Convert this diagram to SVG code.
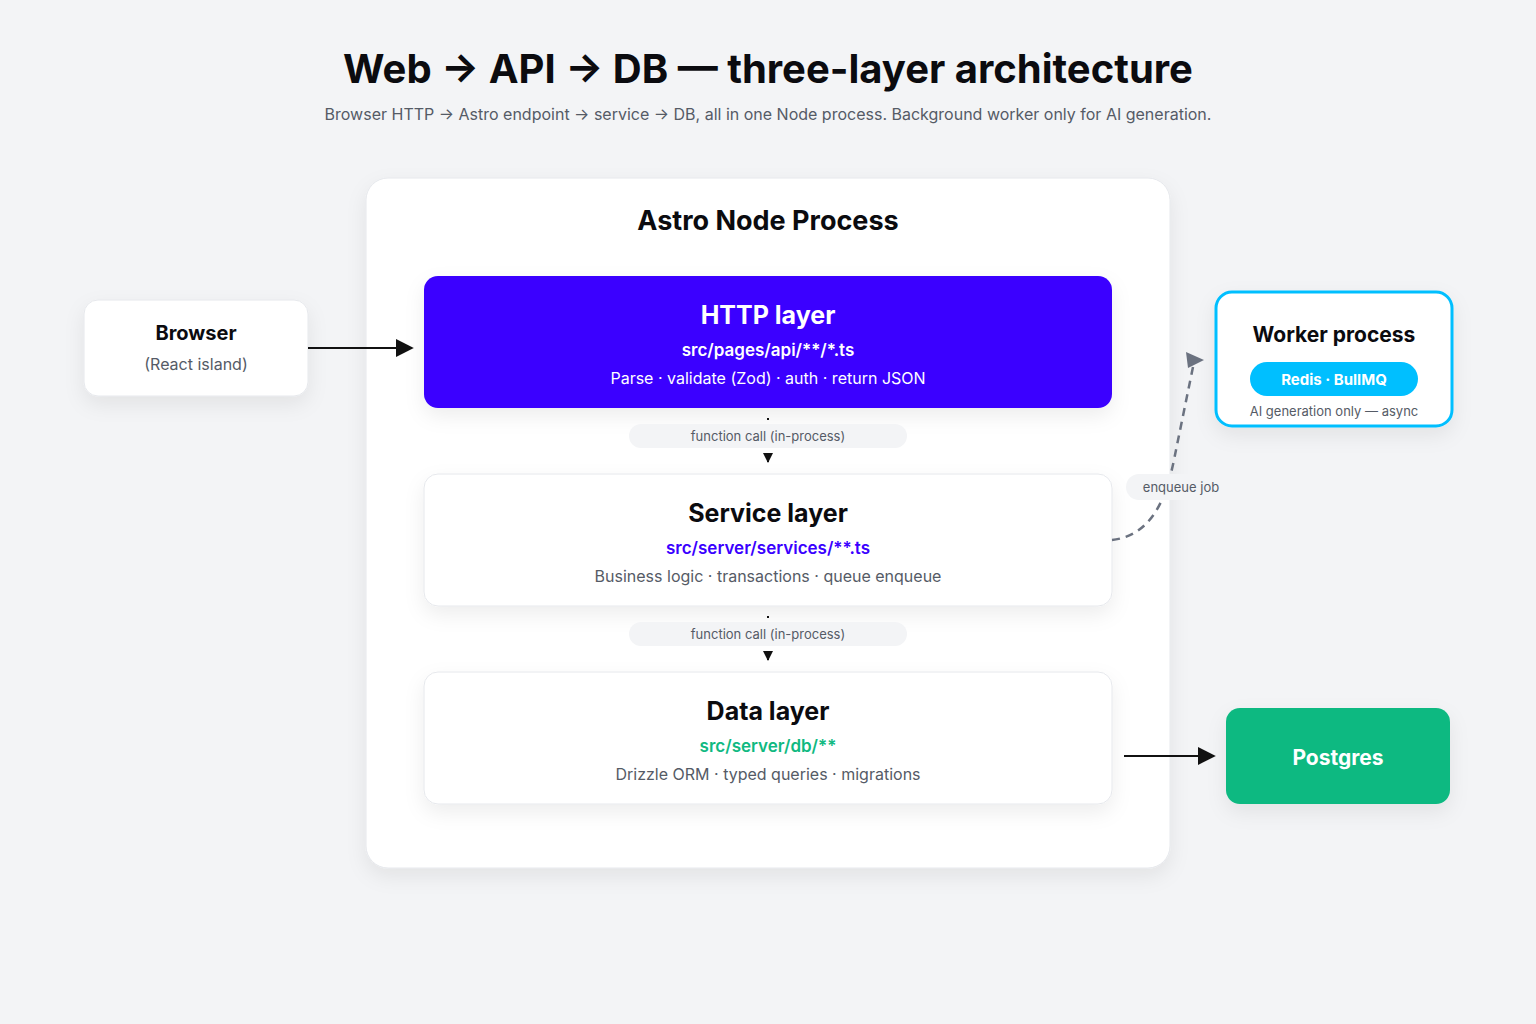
<svg xmlns="http://www.w3.org/2000/svg" width="1536" height="1024" viewBox="0 0 1536 1024">
<style>
text{font-family:Inter,"Noto Sans",sans-serif;text-anchor:middle}
.h{font-weight:700;fill:#0b0b0f}
.sub{fill:#555b66;font-size:16px}
.lbl{fill:#555b66;font-size:13px}
.card{fill:#fff;stroke:#e6e8ec;stroke-width:1}
</style>
<defs>
<filter id="sh" x="-20%" y="-20%" width="140%" height="160%"><feDropShadow dx="0" dy="8" stdDeviation="10" flood-color="#000" flood-opacity="0.07"/></filter>
<marker id="ah" viewBox="0 0 10 10" refX="9" refY="5" markerWidth="10" markerHeight="10" markerUnits="userSpaceOnUse" orient="auto"><path d="M0,0L10,5L0,10z" fill="#111"/></marker>
<marker id="ahl" viewBox="0 0 10 10" refX="9" refY="5" markerWidth="18" markerHeight="18" markerUnits="userSpaceOnUse" orient="auto"><path d="M0,0L10,5L0,10z" fill="#111"/></marker>
<marker id="ahg" viewBox="0 0 10 10" refX="9" refY="5" markerWidth="18" markerHeight="18" markerUnits="userSpaceOnUse" orient="auto"><path d="M0,0L10,5L0,10z" fill="#6b7280"/></marker>
</defs>
<rect width="1536" height="1024" fill="#f3f4f6"/>
<text x="768" y="83" class="h" font-size="40">Web → API → DB — three-layer architecture</text>
<text x="768" y="120" class="sub" font-size="17">Browser HTTP → Astro endpoint → service → DB, all in one Node process. Background worker only for AI generation.</text>
<g id="process"><rect x="366" y="178" width="804" height="690" rx="22" fill="#fff" stroke="#e6e8ec" filter="url(#sh)"/>
<text x="768" y="230" class="h" font-size="27">Astro Node Process</text></g>
<g id="browser"><rect x="84" y="300" width="224" height="96" rx="14" class="card" filter="url(#sh)"/>
<text x="196" y="340" class="h" font-size="20">Browser</text><text x="196" y="370" class="sub" font-size="15">(React island)</text></g>
<g id="http"><rect x="424" y="276" width="688" height="132" rx="14" fill="#3a00ff" filter="url(#sh)"/>
<text x="768" y="324" font-size="25" font-weight="700" fill="#fff">HTTP layer</text>
<text x="768" y="356" font-size="17" font-weight="600" fill="#fff">src/pages/api/**/*.ts</text>
<text x="768" y="384" font-size="16" fill="#fff">Parse · validate (Zod) · auth · return JSON</text></g>
<g id="service"><rect x="424" y="474" width="688" height="132" rx="14" class="card" filter="url(#sh)"/>
<text x="768" y="522" class="h" font-size="25">Service layer</text>
<text x="768" y="554" font-size="17" font-weight="600" fill="#3a00ff">src/server/services/**.ts</text>
<text x="768" y="582" class="sub">Business logic · transactions · queue enqueue</text></g>
<g id="data"><rect x="424" y="672" width="688" height="132" rx="14" class="card" filter="url(#sh)"/>
<text x="768" y="720" class="h" font-size="25">Data layer</text>
<text x="768" y="752" font-size="17" font-weight="600" fill="#10b981">src/server/db/**</text>
<text x="768" y="780" class="sub">Drizzle ORM · typed queries · migrations</text></g>
<g id="worker"><rect x="1216" y="292" width="236" height="134" rx="16" fill="#fff" stroke="#00bfff" stroke-width="3" filter="url(#sh)"/>
<text x="1334" y="342" class="h" font-size="21">Worker process</text>
<rect x="1250" y="362" width="168" height="34" rx="17" fill="#00bfff"/>
<text x="1334" y="385" font-size="15" font-weight="700" fill="#fff">Redis · BullMQ</text>
<text x="1334" y="416" class="lbl">AI generation only — async</text></g>
<g id="postgres"><rect x="1226" y="708" width="224" height="96" rx="14" fill="#10b981" filter="url(#sh)"/>
<text x="1338" y="765" font-size="21" font-weight="700" fill="#fff">Postgres</text></g>
<g id="connectors">
<line x1="308" y1="348" x2="412" y2="348" stroke="#111" stroke-width="2" marker-end="url(#ahl)"/>
<line x1="1124" y1="756" x2="1214" y2="756" stroke="#111" stroke-width="2" marker-end="url(#ahl)"/>
<line x1="768" y1="418" x2="768" y2="462" stroke="#111" stroke-width="2" stroke-dasharray="2 40" marker-end="url(#ah)"/>
<rect x="629" y="424" width="278" height="24" rx="12" fill="#f3f4f6"/>
<text x="768" y="441" class="lbl">function call (in-process)</text>
<line x1="768" y1="616" x2="768" y2="660" stroke="#111" stroke-width="2" stroke-dasharray="2 40" marker-end="url(#ah)"/>
<rect x="629" y="622" width="278" height="24" rx="12" fill="#f3f4f6"/>
<text x="768" y="639" class="lbl">function call (in-process)</text>
<path d="M1112,540 C1160,535 1170,480 1176,450 L1194,362" fill="none" stroke="#6b7280" stroke-width="2.5" stroke-dasharray="8 6"/>
<path d="M1186,352 L1204,360 L1188,368z" fill="#6b7280"/>
<rect x="1126" y="474" width="110" height="26" rx="13" fill="#f3f4f6"/>
<text x="1181" y="492" class="lbl">enqueue job</text>
</g>
</svg>
